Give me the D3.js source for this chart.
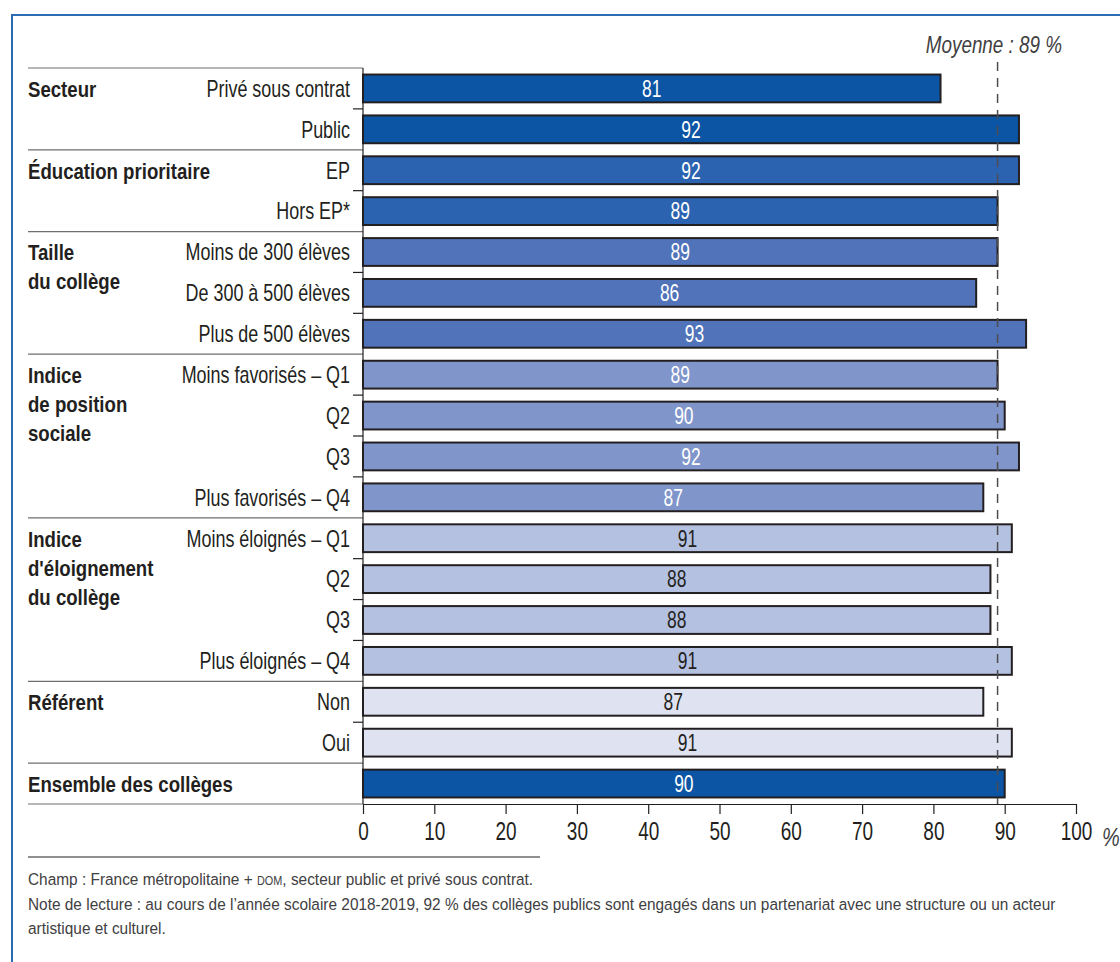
<!DOCTYPE html>
<html>
<head>
<meta charset="utf-8">
<script src="https://cdn.jsdelivr.net/npm/d3@7"></script>
<style>
  body { margin: 0; background: #fff; }
  text { font-family: "Liberation Sans", Arial, sans-serif; fill: #231f20; }
</style>
</head>
<body>
<svg id="chart"></svg>
<script>
// Data
const groups = [
    ["Secteur"],
    ["Éducation prioritaire"],
    ["Taille", "du collège"],
    ["Indice", "de position", "sociale"],
    ["Indice", "d'éloignement", "du collège"],
    ["Référent"],
    ["Ensemble des collèges"]
];
const categories = [
    "Privé sous contrat", "Public",
    "EP", "Hors EP*",
    "Moins de 300 élèves", "De 300 à 500 élèves", "Plus de 500 élèves",
    "Moins favorisés – Q1", "Q2", "Q3", "Plus favorisés – Q4",
    "Moins éloignés – Q1", "Q2", "Q3", "Plus éloignés – Q4",
    "Non", "Oui",
    ""
];
const values = [81, 92, 92, 89, 89, 86, 93, 89, 90, 92, 87, 91, 88, 88, 91, 87, 91, 90];
const groupOf = [0, 0, 1, 1, 2, 2, 2, 3, 3, 3, 3, 4, 4, 4, 4, 5, 5, 6];
const average = 89;
const xTicks = [0, 10, 20, 30, 40, 50, 60, 70, 80, 90, 100];

const groupColors = ["#0b55a4", "#2c63b1", "#5073b9", "#8095ca", "#b5c1e1", "#dee2f1", "#0b55a4"];
const lightText = [true, true, true, true, false, false, true];

let width = 1120, height = 962;
let margin = { top: 68, bottom: 158, left: 363, right: 44 };

// no condensed font installed: squeeze a normal one horizontally
const squeeze = (x, y, s) => `translate(${x},${y}) scale(${s},1)`;

let svg = d3.select('#chart')
    .attr('width', width)
    .attr('height', height);

// Blue frame (top and left)
svg.append('path')
    .attr('d', `M12,${height} L12,15 L${width},15`)
    .attr('fill', 'none')
    .attr('stroke', '#2b6cb5')
    .attr('stroke-width', 2);

let xScale = d3.scaleLinear()
    .domain([0, 100])
    .range([margin.left, width - margin.right]);

let yScale = d3.scaleBand()
    .domain(d3.range(values.length))
    .range([margin.top, height - margin.bottom])
    .paddingInner(0.32)
    .paddingOuter(0.16);

const gap = yScale.step() * yScale.paddingInner() / 2;
const rowTop = i => yScale(i) - gap;
const rowBottom = i => yScale(i) + yScale.bandwidth() + gap;
const rowMid = i => yScale(i) + yScale.bandwidth() / 2;

// Separators between groups and small ticks inside groups
values.forEach((v, i) => {
    let first = i === 0 || groupOf[i] !== groupOf[i - 1];
    svg.append('line')
        .attr('x1', first ? 28 : margin.left - 10)
        .attr('x2', margin.left)
        .attr('y1', rowTop(i))
        .attr('y2', rowTop(i))
        .attr('stroke', first ? '#6d6e71' : '#231f20')
        .attr('stroke-width', 1.2);
});
svg.append('line')
    .attr('x1', 28).attr('x2', margin.left)
    .attr('y1', rowBottom(values.length - 1)).attr('y2', rowBottom(values.length - 1))
    .attr('stroke', '#6d6e71').attr('stroke-width', 1.2);

// Left vertical axis line
svg.append('line')
    .attr('x1', margin.left).attr('x2', margin.left)
    .attr('y1', margin.top).attr('y2', height - margin.bottom)
    .attr('stroke', '#231f20').attr('stroke-width', 1.2);

// Bars
svg.selectAll('rect.bar')
    .data(values)
    .enter()
    .append('rect')
    .attr('class', 'bar')
    .attr('x', xScale(0))
    .attr('y', (d, i) => yScale(i))
    .attr('width', d => xScale(d) - xScale(0))
    .attr('height', yScale.bandwidth())
    .attr('fill', (d, i) => groupColors[groupOf[i]])
    .attr('stroke', '#231f20')
    .attr('stroke-width', 2);

// Value labels in the middle of bars
svg.selectAll('text.val')
    .data(values)
    .enter()
    .append('text')
    .attr('class', 'val')
    .attr('transform', (d, i) => squeeze(xScale(d / 2), rowMid(i), 0.76))
    .attr('dy', '0.36em')
    .attr('text-anchor', 'middle')
    .style('font-size', '23px')
    .style('fill', (d, i) => lightText[groupOf[i]] ? '#ffffff' : '#231f20')
    .text(d => d);

// Category labels
svg.selectAll('text.cat')
    .data(categories)
    .enter()
    .append('text')
    .attr('class', 'cat')
    .attr('transform', (d, i) => squeeze(margin.left - 13, rowMid(i), 0.78))
    .attr('dy', '0.36em')
    .attr('text-anchor', 'end')
    .style('font-size', '23px')
    .text(d => d);

// Group labels (bold, possibly on several lines)
groups.forEach((lines, g) => {
    let first = groupOf.indexOf(g);
    let t = svg.append('text')
        .attr('transform', squeeze(28, rowMid(first), 0.81))
        .style('font-size', '23px')
        .style('font-weight', 'bold');
    lines.forEach((line, k) => {
        t.append('tspan')
            .attr('x', 0)
            .attr('dy', k === 0 ? '0.36em' : 29)
            .text(line);
    });
});

// Average dashed line
svg.append('line')
    .attr('x1', xScale(average)).attr('x2', xScale(average))
    .attr('y1', 62).attr('y2', height - margin.bottom)
    .attr('stroke', '#4d4d4f')
    .attr('stroke-width', 1.5)
    .attr('stroke-dasharray', '9,7');

svg.append('text')
    .attr('transform', squeeze(1062, 53, 0.82))
    .attr('text-anchor', 'end')
    .style('font-size', '23px')
    .style('font-style', 'italic')
    .style('fill', '#414042')
    .text('Moyenne : ' + average + ' %');

// Bottom axis
let xAxis = svg.append('g')
    .attr('transform', `translate(0, ${height - margin.bottom})`)
    .call(d3.axisBottom(xScale).tickValues(xTicks).tickSize(10).tickSizeOuter(0).tickPadding(8));
xAxis.select('.domain').attr('stroke', '#231f20').attr('stroke-width', 1.2);
xAxis.selectAll('.tick line').attr('stroke', '#231f20').attr('stroke-width', 1.2);
xAxis.selectAll('.tick text')
    .attr('transform', 'scale(0.76,1)')
    .style('font-size', '25px')
    .style('font-family', '"Liberation Sans", Arial, sans-serif')
    .attr('fill', '#231f20');

svg.append('text')
    .attr('transform', squeeze(1102, height - margin.bottom + 42, 0.8))
    .style('font-size', '25px')
    .style('font-style', 'italic')
    .style('fill', '#414042')
    .text('%');

// Footnotes
svg.append('line')
    .attr('x1', 28).attr('x2', 540)
    .attr('y1', 857).attr('y2', 857)
    .attr('stroke', '#231f20').attr('stroke-width', 1);

let note1 = svg.append('text')
    .attr('transform', squeeze(28, 885, 0.906))
    .style('font-size', '17px')
    .style('fill', '#414042');
note1.append('tspan').text('Champ : France métropolitaine + ');
note1.append('tspan').style('font-size', '12px').text('DOM');
note1.append('tspan').text(', secteur public et privé sous contrat.');

svg.append('text')
    .attr('transform', squeeze(28, 910, 0.906))
    .style('font-size', '17px')
    .style('fill', '#414042')
    .text('Note de lecture : au cours de l’année scolaire 2018-2019, 92 % des collèges publics sont engagés dans un partenariat avec une structure ou un acteur');

svg.append('text')
    .attr('transform', squeeze(28, 934, 0.906))
    .style('font-size', '17px')
    .style('fill', '#414042')
    .text('artistique et culturel.');
</script>
</body>
</html>
